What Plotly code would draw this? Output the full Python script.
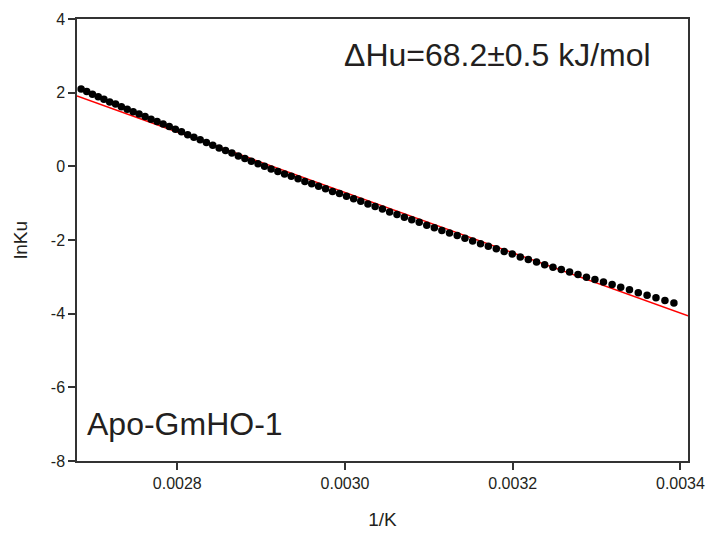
import plotly.graph_objects as go

# ---- data ----
inv_temp = [
    0.0026853, 0.0026920, 0.0026988, 0.0027057, 0.0027125, 0.0027194, 0.0027264, 0.0027333,
    0.0027403, 0.0027474, 0.0027544, 0.0027616, 0.0027687, 0.0027759, 0.0027831, 0.0027904,
    0.0027977, 0.0028050, 0.0028124, 0.0028198, 0.0028273, 0.0028347, 0.0028423, 0.0028499,
    0.0028575, 0.0028651, 0.0028728, 0.0028806, 0.0028883, 0.0028962, 0.0029040, 0.0029119,
    0.0029199, 0.0029279, 0.0029359, 0.0029440, 0.0029521, 0.0029603, 0.0029685, 0.0029768,
    0.0029851, 0.0029934, 0.0030018, 0.0030103, 0.0030188, 0.0030273, 0.0030359, 0.0030446,
    0.0030532, 0.0030620, 0.0030708, 0.0030796, 0.0030885, 0.0030975, 0.0031065, 0.0031155,
    0.0031246, 0.0031338, 0.0031430, 0.0031522, 0.0031616, 0.0031709, 0.0031804, 0.0031898,
    0.0031994, 0.0032090, 0.0032186, 0.0032284, 0.0032381, 0.0032480, 0.0032579, 0.0032678,
    0.0032778, 0.0032879, 0.0032980, 0.0033082, 0.0033185, 0.0033288, 0.0033392, 0.0033497,
    0.0033602, 0.0033708, 0.0033815, 0.0033922,
]
ln_ku = [
    2.10, 2.03, 1.96, 1.89, 1.82, 1.75, 1.69, 1.62,
    1.55, 1.48, 1.42, 1.35, 1.28, 1.22, 1.15, 1.08,
    1.01, 0.94, 0.86, 0.79, 0.72, 0.65, 0.57, 0.50,
    0.43, 0.36, 0.28, 0.21, 0.14, 0.07, 0.00, -0.07,
    -0.14, -0.21, -0.27, -0.34, -0.41, -0.47, -0.54, -0.61,
    -0.68, -0.74, -0.81, -0.88, -0.95, -1.02, -1.09, -1.16,
    -1.24, -1.31, -1.38, -1.45, -1.52, -1.60, -1.67, -1.74,
    -1.81, -1.88, -1.95, -2.03, -2.10, -2.17, -2.24, -2.31,
    -2.38, -2.46, -2.53, -2.60, -2.67, -2.74, -2.80, -2.87,
    -2.94, -3.01, -3.07, -3.14, -3.21, -3.28, -3.35, -3.43,
    -3.50, -3.57, -3.64, -3.71,
]
fit_x = [0.0026804, 0.0034090]
fit_y = [1.91, -4.06]

x_ticks = [0.0028, 0.0030, 0.0032, 0.0034]
x_tick_labels = ["0.0028", "0.0030", "0.0032", "0.0034"]
y_ticks = [4, 2, 0, -2, -4, -6, -8]
y_tick_labels = ["4", "2", "0", "-2", "-4", "-6", "-8"]

FONT = "Liberation Sans, Arial, sans-serif"
TXT = "#231f20"
AX = "#333333"

fig = go.Figure()
fig.add_trace(go.Scatter(x=fit_x, y=fit_y, mode="lines",
                         line=dict(color="#ff0000", width=1.5), showlegend=False))
fig.add_trace(go.Scatter(x=inv_temp, y=ln_ku, mode="markers",
                         marker=dict(color="black", size=7.5, line=dict(width=0)),
                         showlegend=False))

fig.update_xaxes(range=[0.0026804, 0.0034090], tickvals=x_ticks, ticktext=x_tick_labels,
                 ticks="outside", ticklen=7, tickwidth=1.5, tickcolor=AX,
                 showline=True, linewidth=1.5, linecolor=AX, mirror=True,
                 showgrid=False, zeroline=False, automargin=False,
                 tickfont=dict(family=FONT, size=16, color=TXT),
                 title=dict(text="1/K", font=dict(family=FONT, size=19, color=TXT), standoff=22))
fig.update_yaxes(range=[-8, 4], tickvals=y_ticks, ticktext=y_tick_labels,
                 ticks="outside", ticklen=7, tickwidth=1.5, tickcolor=AX,
                 showline=True, linewidth=1.5, linecolor=AX, mirror=True,
                 showgrid=False, zeroline=False, automargin=False,
                 tickfont=dict(family=FONT, size=16, color=TXT),
                 title=dict(text="lnKu", font=dict(family=FONT, size=19, color=TXT), standoff=18))

fig.add_annotation(text="ΔHu=68.2±0.5 kJ/mol", xref="paper", yref="paper",
                   x=0.4337, y=0.9186, xanchor="left", yanchor="middle", showarrow=False,
                   font=dict(family=FONT, size=32, color=TXT))
fig.add_annotation(text="Apo-GmHO-1", xref="paper", yref="paper",
                   x=0.0131, y=0.0837, xanchor="left", yanchor="middle", showarrow=False,
                   font=dict(family=FONT, size=32, color=TXT))

fig.update_layout(width=709, height=533, margin=dict(l=77, r=21, t=19, b=72),
                  paper_bgcolor="white", plot_bgcolor="white")

fig.write_html("out.html", config={"displayModeBar": False},
               post_script="document.body.style.margin='0';document.body.style.overflow='hidden';")
